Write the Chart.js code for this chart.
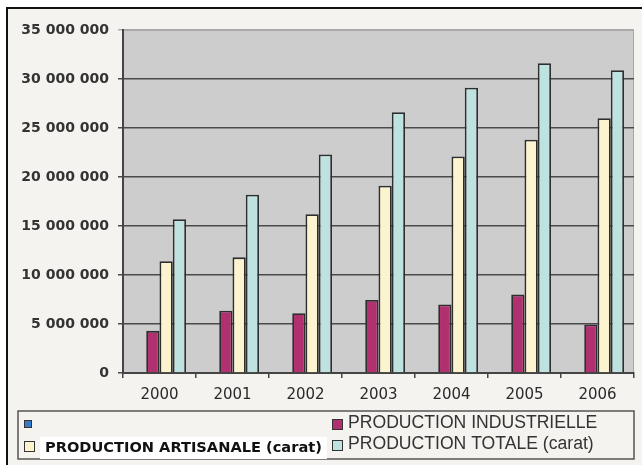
<!DOCTYPE html>
<html>
<head>
<meta charset="utf-8">
<script src="https://cdn.jsdelivr.net/npm/chart.js@4/dist/chart.umd.min.js"></script>
<style>
html,body{margin:0;padding:0;background:#ffffff;}
#wrap{width:642px;height:465px;position:relative;}
</style>
</head>
<body>
<div id="wrap"><canvas id="c" width="642" height="465"></canvas></div>
<script>
// ---- data ----
const years = ['2000', '2001', '2002', '2003', '2004', '2005', '2006'];
const serieVide = [];
const productionIndustrielle = [4300000, 6350000, 6100000, 7450000, 7000000, 8000000, 4950000];
const productionArtisanale = [11400000, 11800000, 16200000, 19100000, 22100000, 23800000, 26000000];
const productionTotale = [15700000, 18200000, 22300000, 26600000, 29100000, 31600000, 30900000];
const seriesLabels = ['', 'PRODUCTION INDUSTRIELLE', 'PRODUCTION ARTISANALE (carat)', 'PRODUCTION TOTALE (carat)'];
const yTickValues = [0, 5000000, 10000000, 15000000, 20000000, 25000000, 30000000, 35000000];

const colors = ['#3a78c9', '#b03070', '#fcf3cf', '#bde2df'];

function fmt(v) {
  return String(v).replace(/\B(?=(\d{3})+(?!\d))/g, ' ');
}

const framePlugin = {
  id: 'frame',
  beforeDraw(chart) {
    const ctx = chart.ctx;
    const W = chart.width, H = chart.height;
    ctx.save();
    ctx.fillStyle = '#ffffff';
    ctx.fillRect(0, 0, W, H);
    ctx.fillStyle = '#f5f3ef';
    ctx.fillRect(7, 8, W - 7, H - 8);
    ctx.strokeStyle = '#111';
    ctx.lineWidth = 2;
    ctx.beginPath();
    ctx.moveTo(7, H);
    ctx.lineTo(7, 8);
    ctx.lineTo(W, 8);
    ctx.stroke();
    const a = chart.chartArea;
    ctx.fillStyle = '#cdcdcd';
    ctx.fillRect(a.left, a.top, a.right - a.left, a.bottom - a.top);
    ctx.strokeStyle = '#a8a8a8';
    ctx.lineWidth = 1;
    ctx.beginPath();
    ctx.moveTo(a.left, a.top + 0.5);
    ctx.lineTo(a.right - 0.5, a.top + 0.5);
    ctx.lineTo(a.right - 0.5, a.bottom);
    ctx.stroke();
    ctx.restore();
  }
};

const legendPlugin = {
  id: 'customLegend',
  afterDraw(chart) {
    const ctx = chart.ctx;
    ctx.save();
    // legend frame
    ctx.strokeStyle = '#555';
    ctx.lineWidth = 1.5;
    ctx.strokeRect(18, 411, 616, 48);
    const ds = chart.data.datasets;
    ctx.lineWidth = 1;
    ctx.strokeStyle = '#333';
    function box(x, y, s, color) {
      ctx.fillStyle = color;
      ctx.fillRect(x, y, s, s);
      ctx.strokeRect(x + 0.5, y + 0.5, s - 1, s - 1);
    }
    // item 0: blue, small box, empty label
    box(24, 420, 8, ds[0].backgroundColor);
    // item 1: industrial
    box(332, 419, 11, ds[1].backgroundColor);
    ctx.fillStyle = '#333';
    ctx.font = '17.6px "Liberation Sans", Arial, sans-serif';
    ctx.textBaseline = 'alphabetic';
    ctx.textAlign = 'left';
    ctx.fillText(ds[1].label, 348, 428);
    // item 2: artisanal, bold on white
    box(24, 441, 11, ds[2].backgroundColor);
    ctx.fillStyle = '#ffffff';
    ctx.fillRect(40, 437, 287, 22);
    ctx.fillStyle = '#111';
    ctx.font = 'bold 14.6px "DejaVu Sans", sans-serif';
    ctx.fillText(ds[2].label, 45, 452);
    // item 3: total
    box(332, 440, 11, ds[3].backgroundColor);
    ctx.fillStyle = '#333';
    ctx.font = '17.6px "Liberation Sans", Arial, sans-serif';
    ctx.fillText(ds[3].label, 348, 449);
    ctx.restore();
  }
};

const mkDs = (label, data, color) => ({
  label: label,
  data: data,
  backgroundColor: color,
  borderColor: '#2e2e2e',
  borderWidth: 1.8,
  borderSkipped: 'bottom',
  barPercentage: 1.0,
  categoryPercentage: 0.727
});

new Chart(document.getElementById('c'), {
  type: 'bar',
  data: {
    labels: years,
    datasets: [
      mkDs(seriesLabels[0], serieVide, colors[0]),
      mkDs(seriesLabels[1], productionIndustrielle, colors[1]),
      mkDs(seriesLabels[2], productionArtisanale, colors[2]),
      mkDs(seriesLabels[3], productionTotale, colors[3])
    ]
  },
  options: {
    responsive: false,
    animation: false,
    devicePixelRatio: 1,
    layout: { padding: { top: 30, right: 8, bottom: 0, left: 0 } },
    plugins: {
      legend: { display: false },
      tooltip: { enabled: false },
      title: { display: false }
    },
    scales: {
      x: {
        offset: true,
        afterFit(scale) { scale.height = 92; },
        grid: {
          offset: true,
          drawOnChartArea: false,
          drawTicks: true,
          tickLength: 5,
          color: '#444',
          lineWidth: 1.5
        },
        border: { display: true, color: '#444', width: 2 },
        ticks: {
          color: '#2a2a2a',
          font: { family: 'DejaVu Sans', size: 15 },
          padding: 8,
          maxRotation: 0
        }
      },
      y: {
        min: 0,
        max: 35000000,
        afterFit(scale) { scale.width = 123; },
        afterBuildTicks(scale) {
          scale.ticks = yTickValues.map(v => ({ value: v }));
        },
        grid: {
          drawTicks: true,
          tickLength: 5,
          color: (c) => (c.tick && c.tick.value === 35000000) ? '#a8a8a8' : '#4a4a4a',
          lineWidth: 1.5
        },
        border: { display: true, color: '#444', width: 2 },
        ticks: {
          color: '#333',
          font: { family: 'DejaVu Sans', size: 14, weight: 'bold' },
          padding: 9,
          callback: (v) => fmt(v)
        }
      }
    }
  },
  plugins: [framePlugin, legendPlugin]
});
</script>
</body>
</html>
